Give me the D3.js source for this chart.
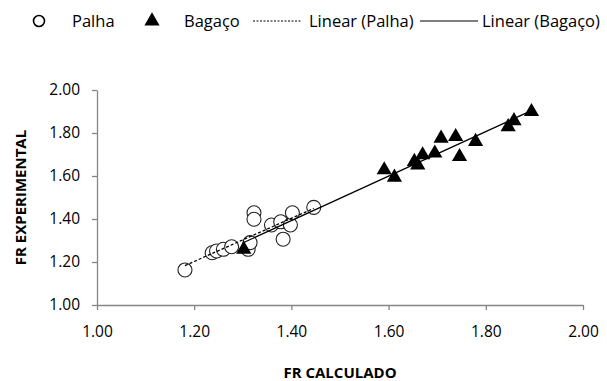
<!DOCTYPE html>
<html>
<head>
<meta charset="utf-8">
<script src="https://cdn.jsdelivr.net/npm/d3@7"></script>
<style>
  body { margin: 0; background: #fff; }
  text { font-family: "Open Sans", sans-serif; fill: #000; }
</style>
</head>
<body>
<div class="chart"></div>
<script>
// valores
const palhaX = [1.181, 1.237, 1.246, 1.260, 1.277, 1.311, 1.315, 1.323, 1.323, 1.359, 1.378, 1.383, 1.398, 1.402, 1.446];
const palhaY = [1.163, 1.243, 1.251, 1.259, 1.271, 1.259, 1.290, 1.429, 1.399, 1.372, 1.387, 1.306, 1.372, 1.429, 1.454];

const bagacoX = [1.302, 1.591, 1.612, 1.653, 1.660, 1.670, 1.695, 1.708, 1.738, 1.746, 1.779, 1.846, 1.858, 1.894];
const bagacoY = [1.259, 1.628, 1.594, 1.667, 1.651, 1.698, 1.706, 1.775, 1.783, 1.690, 1.760, 1.829, 1.857, 1.899];

const ticks = [1.00, 1.20, 1.40, 1.60, 1.80, 2.00];

const width = 607, height = 381;
const margin = { top: 90, right: 24, bottom: 76, left: 97 };

const x = d3.scaleLinear().domain([1, 2]).range([margin.left, width - margin.right]);
const y = d3.scaleLinear().domain([1, 2]).range([height - margin.bottom, margin.top]);

const svg = d3.select('.chart').append('svg')
  .attr('width', width)
  .attr('height', height);

// ejes
const xAxis = d3.axisBottom(x).tickValues(ticks).tickFormat(d3.format('.2f')).tickSize(5).tickSizeOuter(0).tickPadding(16);
const yAxis = d3.axisLeft(y).tickValues(ticks).tickFormat(d3.format('.2f')).tickSize(5).tickSizeOuter(0).tickPadding(12);

const gx = svg.append('g').attr('transform', `translate(0,${y(1)})`).call(xAxis);
const gy = svg.append('g').attr('transform', `translate(${x(1)},0)`).call(yAxis);

[gx, gy].forEach(g => {
  g.selectAll('path, line').attr('stroke', '#868686').attr('stroke-width', 1.3);
  g.selectAll('text').style('font-size', '15.5px').attr('fill', '#000');
});

// títulos de los ejes
svg.append('text')
  .attr('x', (x(1) + x(2)) / 2)
  .attr('y', 378)
  .attr('text-anchor', 'middle')
  .style('font-size', '15px')
  .style('font-weight', 'bold')
  .text('FR CALCULADO');

svg.append('text')
  .attr('transform', `translate(26,${(y(1) + y(2)) / 2}) rotate(-90)`)
  .attr('text-anchor', 'middle')
  .style('font-size', '15px')
  .style('font-weight', 'bold')
  .text('FR EXPERIMENTAL');

// marcadores
const palha = palhaX.map((v, i) => [v, palhaY[i]]);
const bagaco = bagacoX.map((v, i) => [v, bagacoY[i]]);

svg.append('g').selectAll('circle')
  .data(palha)
  .join('circle')
  .attr('cx', d => x(d[0]))
  .attr('cy', d => y(d[1]))
  .attr('r', 7)
  .attr('fill', '#fff')
  .attr('stroke', '#222')
  .attr('stroke-width', 1.1);

const tri = d3.symbol().type(d3.symbolTriangle).size(100);
svg.append('g').selectAll('path')
  .data(bagaco)
  .join('path')
  .attr('d', tri)
  .attr('transform', d => `translate(${x(d[0])},${y(d[1])})`)
  .attr('fill', '#000');

// líneas de tendencia (mínimos cuadrados)
const fit = pts => {
  const mx = d3.mean(pts, d => d[0]), my = d3.mean(pts, d => d[1]);
  const b = d3.sum(pts, d => (d[0] - mx) * (d[1] - my)) / d3.sum(pts, d => (d[0] - mx) ** 2);
  const a = my - b * mx;
  const [x0, x1] = d3.extent(pts, d => d[0]);
  return [[x0, a + b * x0], [x1, a + b * x1]];
};

const line = d3.line().x(d => x(d[0])).y(d => y(d[1]));

svg.append('path')
  .attr('d', line(fit(palha)))
  .attr('stroke', '#000')
  .attr('stroke-width', 1.3)
  .attr('stroke-dasharray', '3,2')
  .attr('fill', 'none');

svg.append('path')
  .attr('d', line(fit(bagaco)))
  .attr('stroke', '#000')
  .attr('stroke-width', 1.3)
  .attr('fill', 'none');

// leyenda
const ly = 21;
const leg = svg.append('g').style('font-size', '16.5px');

leg.append('circle').attr('cx', 39).attr('cy', ly).attr('r', 5.5)
  .attr('fill', '#fff').attr('stroke', '#000').attr('stroke-width', 1.6);
leg.append('text').attr('x', 72).attr('y', ly).attr('dy', '0.35em').text('Palha');

leg.append('path').attr('d', tri).attr('transform', `translate(152,${ly})`).attr('fill', '#000');
leg.append('text').attr('x', 184).attr('y', ly).attr('dy', '0.35em').text('Bagaço');

leg.append('line').attr('x1', 253).attr('x2', 301).attr('y1', ly).attr('y2', ly)
  .attr('stroke', '#000').attr('stroke-dasharray', '2,1.5');
leg.append('text').attr('x', 309).attr('y', ly).attr('dy', '0.35em').text('Linear (Palha)');

leg.append('line').attr('x1', 420).attr('x2', 478).attr('y1', ly).attr('y2', ly)
  .attr('stroke', '#000');
leg.append('text').attr('x', 482).attr('y', ly).attr('dy', '0.35em').text('Linear (Bagaço)');
</script>
</body>
</html>
